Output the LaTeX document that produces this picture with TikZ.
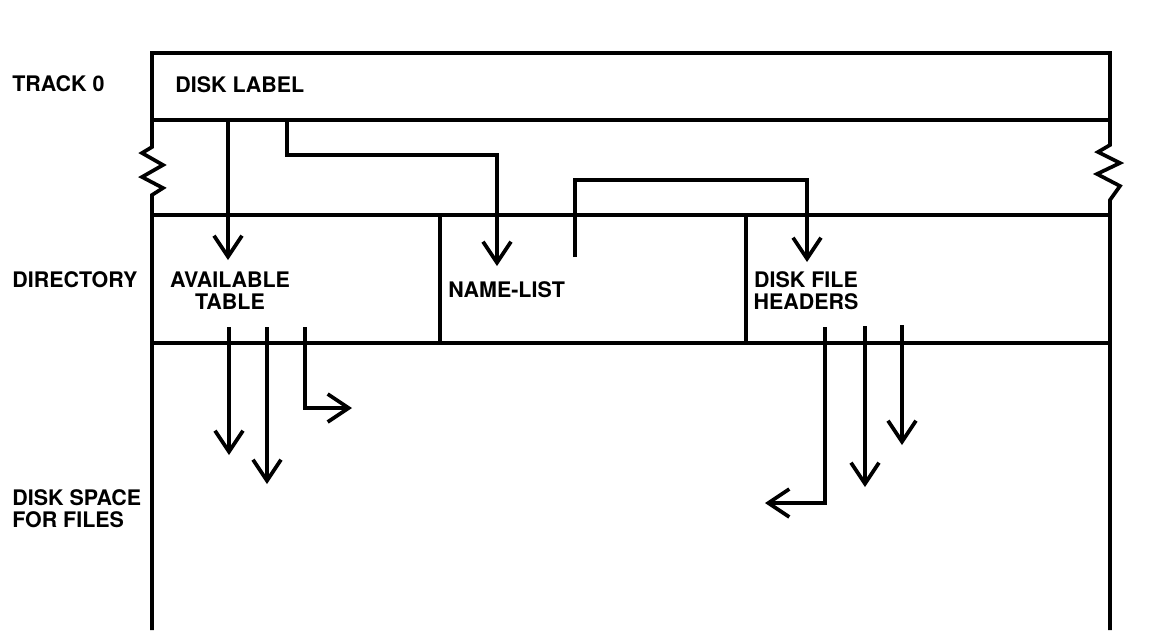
\documentclass[tikz,border=0pt]{standalone}
\usepackage{fontspec}
\setmainfont{TeX Gyre Heros}
\usetikzlibrary{arrows.meta}

\begin{document}
\begin{tikzpicture}[
  x=0.02cm, y=-0.02cm,
  font=\fontsize{12.2}{12.6}\selectfont\bfseries,
  wall/.style={line width=2.1pt},
  lbl/.style={anchor=base west, inner sep=0pt},
  cell/.style={inner sep=0pt, align=center},
  ar/.style={-{Straight Barb[length=0.42cm, width=0.56cm, line width=2.1pt]},
             line width=2.1pt}
]
\useasboundingbox (0,0) rectangle (1164,630);

% disk layout
\draw[wall] (152,120) -- (152,53) -- (1110,53) -- (1110,120);
\draw[wall] (152,120) -- (1110,120);
\draw[wall] (152,120) -- (152,147) -- (142,153) -- (163,165) -- (142,177)
  -- (163,188) -- (152,195) -- (152,630);
\draw[wall] (1110,120) -- (1110,145) -- (1098,152) -- (1120,163) -- (1097,174)
  -- (1120,186) -- (1110,200) -- (1110,630);
\draw[wall] (152,215) -- (1110,215);
\draw[wall] (152,343) -- (1110,343);
\draw[wall] (440,215) -- (440,343);
\draw[wall] (746,215) -- (746,343);

% side labels
\node[lbl] (track) at (12,91) {TRACK 0};
\node[lbl] (dir) at (12,287) {DIRECTORY};
\node[cell, anchor=west, align=left] (space) at (12,509) {DISK SPACE\\FOR FILES};

% contents
\node[lbl] (label) at (175,92) {DISK LABEL};
\node[cell] (avail) at (230,291) {AVAILABLE\\TABLE};
\node[lbl] (names) at (448,297) {NAME-LIST};
\node[cell] (headers) at (806,291) {DISK FILE\\HEADERS};

% pointers
\coordinate (l1) at (228,120);
\coordinate (l2) at (287,120);
\coordinate (n1) at (575,257);
\draw[ar] (l1) -- (228,260);
\draw[ar] (l2) -- (287,155) -| (497,266);
\draw[ar] (n1) -- (575,180) -| (807,262);

\coordinate (a1) at (229,327);
\coordinate (a2) at (267,327);
\coordinate (a3) at (305,327);
\draw[ar] (a1) -- (229,455);
\draw[ar] (a2) -- (267,484);
\draw[ar] (a3) |- (352,408);

\coordinate (h1) at (825,327);
\coordinate (h2) at (865,326);
\coordinate (h3) at (902,325);
\draw[ar] (h1) |- (765,503);
\draw[ar] (h2) -- (865,487);
\draw[ar] (h3) -- (902,445);
\end{tikzpicture}
\end{document}
